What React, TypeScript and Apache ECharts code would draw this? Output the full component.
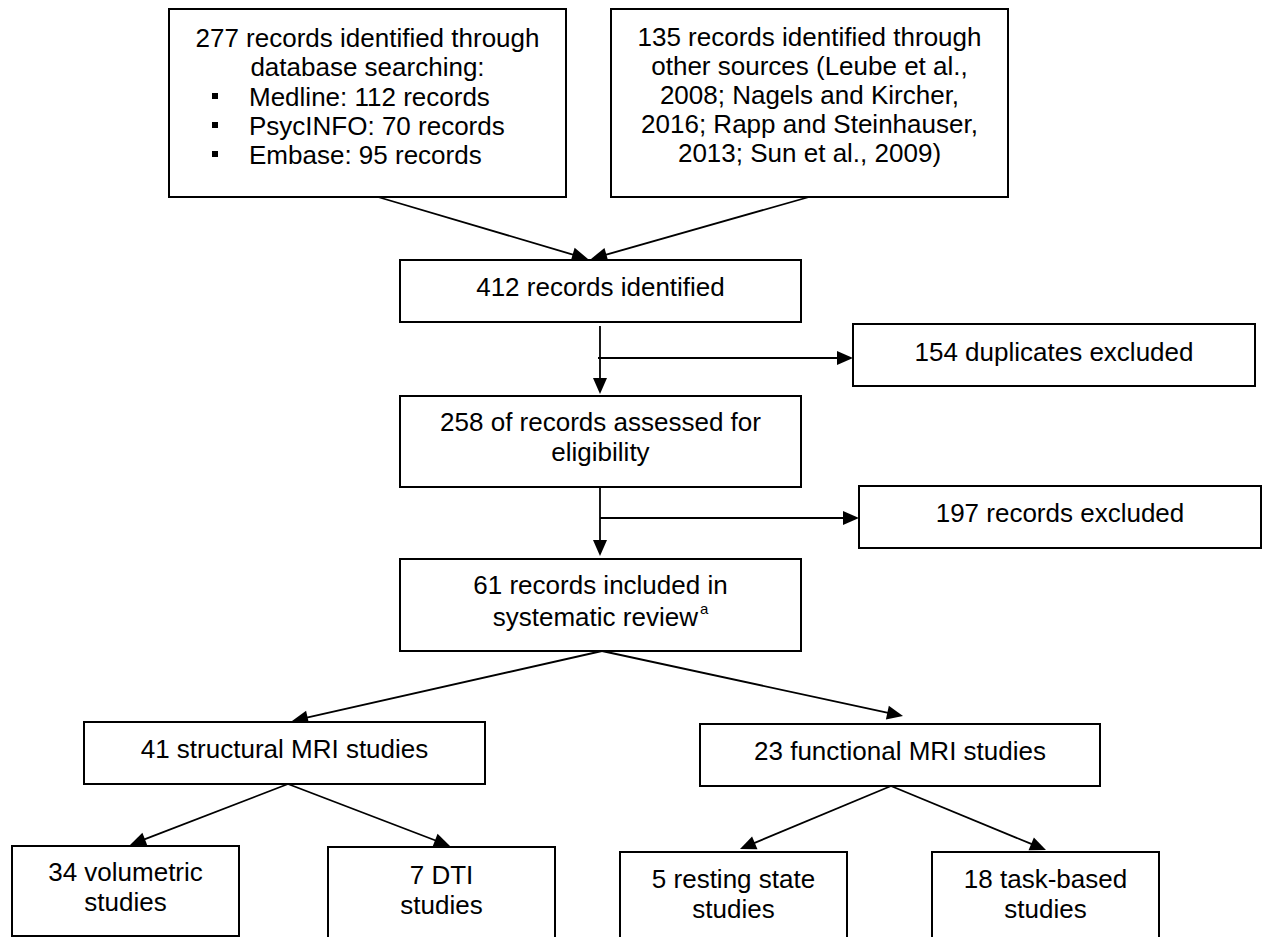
import React, { useEffect, useRef } from "react";
import * as echarts from "echarts";

// ---------- data ----------
const dbTotal = 277;
const dbNames = ["Medline", "PsycINFO", "Embase"];
const dbCounts = [112, 70, 95];
const otherSourcesTotal = 135;
const otherSourcesRefs = [
  "other sources (Leube et al.,",
  "2008; Nagels and Kircher,",
  "2016; Rapp and Steinhauser,",
  "2013; Sun et al., 2009)",
];
const stageCounts = [412, 154, 258, 197, 61];
const modalityNames = ["structural", "functional"];
const modalityCounts = [41, 23];
const subtypeCounts = [34, 7, 5, 18];
const footnoteMark = "a";

// ---------- texts built from data ----------
const boxTexts: string[][] = [
  [
    `${dbTotal} records identified through`,
    "database searching:",
    ...dbNames.map((n, i) => `${n}: ${dbCounts[i]} records`),
  ],
  [`${otherSourcesTotal} records identified through`, ...otherSourcesRefs],
  [`${stageCounts[0]} records identified`],
  [`${stageCounts[1]} duplicates excluded`],
  [`${stageCounts[2]} of records assessed for`, "eligibility"],
  [`${stageCounts[3]} records excluded`],
  [`${stageCounts[4]} records included in`, "systematic review"],
  [`${modalityCounts[0]} ${modalityNames[0]} MRI studies`],
  [`${modalityCounts[1]} ${modalityNames[1]} MRI studies`],
  [`${subtypeCounts[0]} volumetric`, "studies"],
  [`${subtypeCounts[1]} DTI`, "studies"],
  [`${subtypeCounts[2]} resting state`, "studies"],
  [`${subtypeCounts[3]} task-based`, "studies"],
];

// ---------- layout (page pixel units on hidden axes) ----------
const boxFrames = [
  [169, 9, 566, 197],
  [611, 9, 1008, 197],
  [400, 260, 801, 322],
  [853, 324, 1255, 386],
  [400, 396, 801, 487],
  [859, 486, 1261, 548],
  [400, 559, 801, 651],
  [84, 722, 485, 784],
  [700, 724, 1100, 786],
  [12, 846, 239, 936],
  [328, 847, 555, 950],
  [620, 852, 847, 950],
  [932, 852, 1159, 950],
];
const boxRowYs = [
  [38, 67, 97, 126, 155],
  [37, 66, 95, 124, 153],
  [287],
  [352],
  [422, 452],
  [513],
  [585, 617],
  [749],
  [751],
  [872, 902],
  [875, 905],
  [879, 909],
  [879, 909],
];
const bulletLayout = { box: 0, fromRow: 2, markX: 215, textX: 249, size: 6 };
const footnoteLayout = { box: 6, row: 1, gap: 2, lift: 9 };

const arrowSegments = [
  [378, 197, 588, 259],
  [809, 197, 591, 259],
  [600, 326, 600, 394],
  [598, 358, 853, 358],
  [600, 487, 600, 556],
  [600, 518, 859, 518],
  [602, 651, 292, 721],
  [602, 651, 903, 716],
  [288, 784, 130, 845],
  [288, 784, 450, 846],
  [891, 786, 740, 849],
  [891, 786, 1046, 850],
];

const W = 1263;
const H = 937;
const FONT_FAMILY = "'Liberation Sans', Arial, Helvetica, sans-serif";
const FONT_SIZE = 26;
const SUP_SIZE = 15;

function measure(text: string, size: number): number {
  const c = document.createElement("canvas").getContext("2d");
  if (!c) return text.length * size * 0.5;
  c.font = `${size}px ${FONT_FAMILY}`;
  return c.measureText(text).width;
}

function textEl(text: string, x: number, y: number, align: string, size = FONT_SIZE) {
  return {
    type: "text",
    silent: true,
    style: {
      text,
      x,
      y,
      fill: "#000",
      fontSize: size,
      fontFamily: FONT_FAMILY,
      align,
      textAlign: align,
      verticalAlign: "middle",
      textVerticalAlign: "middle",
    },
  };
}

export default function App() {
  const ref = useRef<HTMLDivElement>(null);

  useEffect(() => {
    document.body.style.margin = "0";
    document.body.style.overflow = "hidden";
    if (!ref.current) return;
    const chart = echarts.init(ref.current, null, { renderer: "svg" });

    const option = {
      animation: false,
      backgroundColor: "#fff",
      grid: { left: 0, right: 0, top: 0, bottom: 0 },
      xAxis: { type: "value", min: 0, max: W, show: false },
      yAxis: { type: "value", min: 0, max: H, inverse: true, show: false },
      series: [
        {
          type: "custom",
          name: "arrows",
          coordinateSystem: "cartesian2d",
          clip: false,
          silent: true,
          encode: { x: [0, 2], y: [1, 3] },
          data: arrowSegments,
          renderItem: (params: any, api: any) => {
            const a = api.coord([api.value(0), api.value(1)]);
            const b = api.coord([api.value(2), api.value(3)]);
            const dx = b[0] - a[0];
            const dy = b[1] - a[1];
            const len = Math.sqrt(dx * dx + dy * dy) || 1;
            const ux = dx / len;
            const uy = dy / len;
            const headLen = 16;
            const halfW = 7;
            const bx = b[0] - ux * headLen;
            const by = b[1] - uy * headLen;
            const nx = -uy;
            const ny = ux;
            return {
              type: "group",
              children: [
                {
                  type: "line",
                  shape: { x1: a[0], y1: a[1], x2: bx + ux * 2, y2: by + uy * 2 },
                  style: { stroke: "#000", lineWidth: 1.8 },
                },
                {
                  type: "polygon",
                  shape: {
                    points: [
                      [b[0], b[1]],
                      [bx + nx * halfW, by + ny * halfW],
                      [bx - nx * halfW, by - ny * halfW],
                    ],
                  },
                  style: { fill: "#000" },
                },
              ],
            };
          },
        },
        {
          type: "custom",
          name: "boxes",
          coordinateSystem: "cartesian2d",
          clip: false,
          silent: true,
          encode: { x: [0, 2], y: [1, 3] },
          data: boxFrames,
          renderItem: (params: any, api: any) => {
            const i = params.dataIndex;
            const p1 = api.coord([api.value(0), api.value(1)]);
            const p2 = api.coord([api.value(2), api.value(3)]);
            const cx = (p1[0] + p2[0]) / 2;
            const children: any[] = [
              {
                type: "rect",
                shape: { x: p1[0], y: p1[1], width: p2[0] - p1[0], height: p2[1] - p1[1] },
                style: { fill: "#fff", stroke: "#000", lineWidth: 2 },
              },
            ];
            boxTexts[i].forEach((txt, r) => {
              const y = api.coord([0, boxRowYs[i][r]])[1];
              if (i === bulletLayout.box && r >= bulletLayout.fromRow) {
                const mx = api.coord([bulletLayout.markX, 0])[0];
                const tx = api.coord([bulletLayout.textX, 0])[0];
                const s = bulletLayout.size;
                children.push({
                  type: "rect",
                  shape: { x: mx - s / 2, y: y - s / 2 - 1, width: s, height: s },
                  style: { fill: "#000" },
                });
                children.push(textEl(txt, tx, y, "left"));
              } else if (i === footnoteLayout.box && r === footnoteLayout.row) {
                const wMain = measure(txt, FONT_SIZE);
                const wSup = measure(footnoteMark, SUP_SIZE);
                const g = footnoteLayout.gap;
                const start = cx - (wMain + g + wSup) / 2;
                children.push(textEl(txt, start, y, "left"));
                children.push(
                  textEl(footnoteMark, start + wMain + g, y - footnoteLayout.lift, "left", SUP_SIZE)
                );
              } else {
                children.push(textEl(txt, cx, y, "center"));
              }
            });
            return { type: "group", children };
          },
        },
      ],
    };

    chart.setOption(option as any);
    return () => chart.dispose();
  }, []);

  return <div ref={ref} style={{ width: W, height: H }} />;
}
